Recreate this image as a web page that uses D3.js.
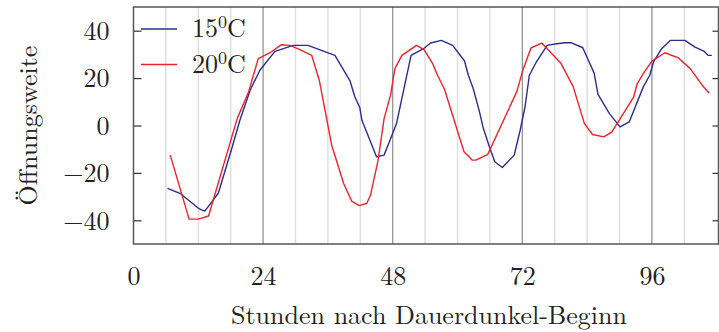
<!DOCTYPE html>
<html>
<head>
<meta charset="utf-8">
<script src="https://cdn.jsdelivr.net/npm/d3@7"></script>
<style>
  html, body { margin: 0; padding: 0; background: #fff; }
  svg { display: block; }
</style>
</head>
<body>
<svg id="chart" width="719" height="332"></svg>
<script>
// Öffnungsweite over time after the start of continuous darkness
const hours15 = [6.3, 8.6, 12.2, 13.2, 15.7, 18.2, 19.7, 21.6, 23.4, 26.2, 29.6, 32.3, 37.3, 40.1, 41.0, 41.9, 42.3, 45.0, 46.4, 47.5, 48.7, 51.4, 53.7, 55.0, 57.0, 59.1, 61.3, 62.0, 62.9, 64.0, 64.8, 65.9, 66.9, 68.3, 70.5, 71.6, 72.5, 73.3, 74.7, 76.6, 78.4, 79.9, 81.1, 83.2, 85.3, 86.0, 88.1, 90.1, 91.8, 94.4, 95.6, 96.3, 97.8, 99.4, 102.1, 104.0, 105.6, 106.4, 107.1];
const values15 = [-26.5, -28.6, -35.2, -36.1, -28.6, -9.7, 2.2, 14.9, 23.3, 31.3, 33.8, 33.8, 29.6, 18.8, 12.0, 7.6, 2.2, -13.2, -12.5, -6.2, 0.8, 29.6, 32.4, 34.8, 35.9, 33.8, 27.2, 21.2, 15.6, 6.4, -1.3, -9.0, -15.3, -17.7, -12.5, -2.0, 7.8, 21.2, 27.2, 33.8, 34.5, 34.9, 34.9, 32.8, 22.1, 13.2, 5.1, -0.6, 1.5, 16.3, 21.2, 26.8, 32.4, 35.9, 35.9, 33.1, 31.4, 29.6, 29.6];

const hours20 = [6.8, 10.3, 12.0, 13.9, 19.2, 21.3, 23.1, 25.3, 27.4, 29.0, 30.8, 33.0, 34.4, 36.7, 38.9, 40.4, 41.8, 43.2, 43.9, 45.3, 46.4, 47.6, 48.4, 49.7, 52.4, 53.8, 55.4, 56.3, 57.6, 61.2, 62.7, 63.4, 65.6, 71.0, 72.1, 73.6, 75.6, 79.1, 81.4, 83.5, 85.0, 87.1, 88.6, 92.6, 93.3, 94.4, 96.0, 98.4, 100.9, 103.1, 105.4, 106.6];
const values20 = [-12.5, -39.5, -39.5, -38.2, 2.9, 14.1, 28.2, 30.7, 34.1, 33.8, 32.0, 29.6, 19.1, -8.3, -24.4, -31.9, -33.8, -32.8, -29.3, -14.6, 2.9, 12.8, 24.0, 29.6, 33.8, 32.0, 26.1, 21.2, 15.2, -11.1, -14.6, -14.6, -12.2, 14.4, 23.3, 32.7, 34.8, 26.4, 16.5, 0.8, -3.8, -4.8, -2.7, 12.0, 17.7, 21.9, 27.2, 30.7, 28.5, 24.0, 16.7, 13.7];

const seriesNames = ["15", "20"];
const seriesColors = ["#2a2d92", "#f0222b"];

const xTicks = [0, 24, 48, 72, 96];
const xMinorTicks = [6, 12, 18, 30, 36, 42, 54, 60, 66, 78, 84, 90, 102];
const yTicks = [-40, -20, 0, 20, 40];

const xTitle = "Stunden nach Dauerdunkel-Beginn";
const yTitle = "Öffnungsweite";

const FONT = "Latin Modern Roman, CMU Serif, Liberation Serif, serif";
const FS = 26;
const svg = d3.select("#chart");
const plotLeft = 133.5, plotRight = 718.5, plotTop = 7, plotBottom = 244;

const x = d3.scaleLinear().domain([0, 108.33]).range([plotLeft, plotRight]);
const y = d3.scaleLinear().domain([-50, 50]).range([plotBottom, plotTop]);

// vertical grid: light every 6 h, darker every 24 h
svg.append("g").selectAll("line").data(xMinorTicks).join("line")
  .attr("x1", d => x(d)).attr("x2", d => x(d))
  .attr("y1", plotTop).attr("y2", plotBottom)
  .attr("stroke", "#dedede").attr("stroke-width", 1.4);
svg.append("g").selectAll("line").data(xTicks.filter(d => d > 0)).join("line")
  .attr("x1", d => x(d)).attr("x2", d => x(d))
  .attr("y1", plotTop).attr("y2", plotBottom)
  .attr("stroke", "#8a8a8a").attr("stroke-width", 1.2);

// y axis ticks, pointing inward on both sides
const yLeft = d3.axisLeft(y).tickValues(yTicks).tickSize(-8)
  .tickFormat(d => d < 0 ? "\u2212" + Math.abs(d) : d).tickPadding(24);
const gy = svg.append("g").attr("transform", `translate(${plotLeft},0)`).call(yLeft)
  .attr("font-family", FONT);
gy.select(".domain").remove();
gy.selectAll(".tick line").attr("stroke", "#333").attr("stroke-width", 1.2);
gy.selectAll(".tick text").attr("font-size", FS).attr("font-family", FONT)
  .attr("fill", "#222").attr("dy", "0.34em");

const yRight = d3.axisRight(y).tickValues(yTicks).tickSize(-6).tickFormat("");
const gyr = svg.append("g").attr("transform", `translate(${plotRight},0)`).call(yRight);
gyr.select(".domain").remove();
gyr.selectAll(".tick line").attr("stroke", "#333").attr("stroke-width", 1.2);

// x tick labels
const xAxis = d3.axisBottom(x).tickValues(xTicks).tickSize(0).tickPadding(23);
const gx = svg.append("g").attr("transform", `translate(0,${plotBottom})`).call(xAxis)
  .attr("font-family", FONT);
gx.select(".domain").remove();
gx.selectAll(".tick text").attr("font-size", FS).attr("font-family", FONT)
  .attr("fill", "#222");

// frame
svg.append("rect")
  .attr("x", plotLeft).attr("y", plotTop)
  .attr("width", plotRight - plotLeft).attr("height", plotBottom - plotTop)
  .attr("fill", "none").attr("stroke", "#555").attr("stroke-width", 1.5);

// series lines
const line = d3.line().x(d => x(d[0])).y(d => y(d[1]));
const series = [
  d3.zip(hours15, values15),
  d3.zip(hours20, values20)
];
svg.append("g").selectAll("path").data(series).join("path")
  .attr("d", line)
  .attr("fill", "none")
  .attr("stroke", (d, i) => seriesColors[i])
  .attr("stroke-width", 1.4)
  .attr("stroke-linejoin", "round");

// legend
const legend = svg.append("g");
seriesNames.forEach((name, i) => {
  const ly = 29 + i * 35.5;
  legend.append("line")
    .attr("x1", 141).attr("x2", 177).attr("y1", ly).attr("y2", ly)
    .attr("stroke", seriesColors[i]).attr("stroke-width", 1.4);
  const t = legend.append("text")
    .attr("x", 192).attr("y", ly + 8).attr("font-size", FS)
    .attr("font-family", FONT).attr("fill", "#222");
  t.append("tspan").text(name);
  t.append("tspan").attr("font-size", 18).attr("dy", -9).text("0");
  t.append("tspan").attr("dy", 9).text("C");
});

// axis titles
svg.append("text")
  .attr("x", (plotLeft + plotRight) / 2 + 3).attr("y", 324)
  .attr("text-anchor", "middle").attr("font-size", FS)
  .attr("font-family", FONT).attr("fill", "#222")
  .text(xTitle);
svg.append("text")
  .attr("transform", `translate(37,${(plotTop + plotBottom) / 2}) rotate(-90)`)
  .attr("text-anchor", "middle").attr("font-size", FS)
  .attr("font-family", FONT).attr("fill", "#222")
  .text(yTitle);
</script>
</body>
</html>
